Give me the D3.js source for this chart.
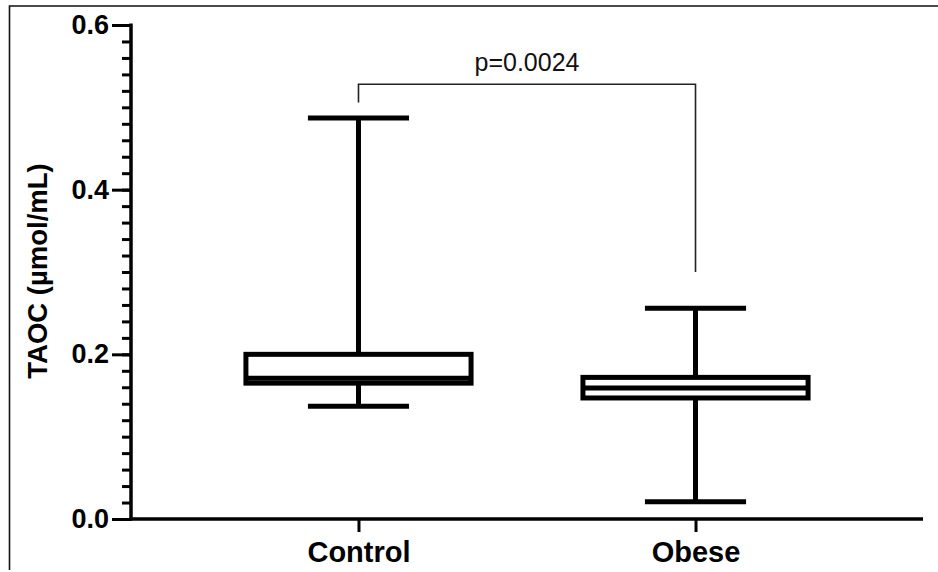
<!DOCTYPE html>
<html>
<head>
<meta charset="utf-8">
<script src="https://cdn.jsdelivr.net/npm/d3@7"></script>
<style>
    body { margin: 0; background: #fff; }
    svg { display: block; font-family: "Liberation Sans", Arial, sans-serif; }
</style>
</head>
<body>
<svg id="chart" width="938" height="572"></svg>
<script>
// box plot values
var groups = ['Control', 'Obese'];
var minVals = [0.137, 0.021];
var q1Vals = [0.165, 0.147];
var medVals = [0.171, 0.159];
var q3Vals = [0.200, 0.172];
var maxVals = [0.487, 0.256];

var yTicks = [0.0, 0.2, 0.4, 0.6];
var pLabel = 'p=0.0024';
var bracketTop = 0.528;
var bracketEnds = [0.506, 0.300];

var svg = d3.select('#chart');

var plotLeft = 131, plotRight = 923, plotTop = 25, plotBottom = 519;

var x = d3.scalePoint()
    .domain(groups)
    .range([plotLeft, plotRight])
    .padding(0.675);

var y = d3.scaleLinear()
    .domain([0, 0.6])
    .range([plotBottom, plotTop]);

// outer frame
svg.append('path')
    .attr('d', 'M945 6 H9.5 V570')
    .attr('fill', 'none')
    .attr('stroke', '#111')
    .attr('stroke-width', 1.6);

// y axis: minor ticks then major
var yMinor = d3.axisLeft(y)
    .tickValues(d3.range(0, 0.601, 0.02))
    .tickSize(9)
    .tickFormat('');

svg.append('g')
    .attr('transform', 'translate(' + plotLeft + ',0)')
    .call(yMinor)
    .call(function (g) {
        g.selectAll('line').attr('stroke', '#000').attr('stroke-width', 3);
        g.select('.domain').remove();
    });

var yAxis = d3.axisLeft(y)
    .tickValues(yTicks)
    .tickSize(19)
    .tickPadding(3)
    .tickFormat(d3.format('.1f'));

svg.append('g')
    .attr('transform', 'translate(' + plotLeft + ',0)')
    .call(yAxis)
    .call(function (g) {
        g.select('.domain')
            .attr('d', 'M0,' + (plotTop - 1.5) + 'V' + (plotBottom + 1.5))
            .attr('stroke', '#000')
            .attr('stroke-width', 3.5);
        g.selectAll('line').attr('stroke', '#000').attr('stroke-width', 3);
        g.selectAll('text')
            .attr('fill', '#000')
            .style('font-size', '27px')
            .style('font-weight', 'bold');
    });

// x axis
var xAxis = d3.axisBottom(x)
    .tickSize(13)
    .tickPadding(9);

svg.append('g')
    .attr('transform', 'translate(0,' + plotBottom + ')')
    .call(xAxis)
    .call(function (g) {
        g.select('.domain')
            .attr('d', 'M' + (plotLeft - 1.5) + ',0H' + plotRight)
            .attr('stroke', '#000')
            .attr('stroke-width', 3.5);
        g.selectAll('line').attr('stroke', '#000').attr('stroke-width', 3);
        g.selectAll('text')
            .attr('fill', '#000')
            .style('font-size', '29px')
            .style('font-weight', 'bold');
    });

// y axis title
svg.append('text')
    .attr('transform', 'translate(47,271) rotate(-90)')
    .attr('text-anchor', 'middle')
    .style('font-size', '27.5px')
    .style('font-weight', 'bold')
    .text('TAOC (\u00b5mol/mL)');

// boxes
var step = x.step();
var boxW = step * 0.668;
var capW = step * 0.3;

var data = groups.map(function (g, i) {
    return { name: g, min: minVals[i], q1: q1Vals[i], med: medVals[i], q3: q3Vals[i], max: maxVals[i] };
});

var box = svg.selectAll('.box')
    .data(data)
    .enter().append('g')
    .classed('box', true)
    .attr('stroke', '#000')
    .attr('stroke-width', 5)
    .attr('fill', 'none');

// whiskers
box.append('line')
    .attr('x1', function (d) { return x(d.name); })
    .attr('x2', function (d) { return x(d.name); })
    .attr('y1', function (d) { return y(d.max); })
    .attr('y2', function (d) { return y(d.q3); });

box.append('line')
    .attr('x1', function (d) { return x(d.name); })
    .attr('x2', function (d) { return x(d.name); })
    .attr('y1', function (d) { return y(d.q1); })
    .attr('y2', function (d) { return y(d.min); });

box.selectAll('.cap')
    .data(function (d) { return [{ name: d.name, v: d.max }, { name: d.name, v: d.min }]; })
    .enter().append('line')
    .classed('cap', true)
    .attr('x1', function (d) { return x(d.name) - capW / 2; })
    .attr('x2', function (d) { return x(d.name) + capW / 2; })
    .attr('y1', function (d) { return y(d.v); })
    .attr('y2', function (d) { return y(d.v); });

box.append('rect')
    .attr('x', function (d) { return x(d.name) - boxW / 2; })
    .attr('width', boxW)
    .attr('y', function (d) { return y(d.q3); })
    .attr('height', function (d) { return y(d.q1) - y(d.q3); })
    .attr('fill', '#fff');

box.append('line')
    .attr('x1', function (d) { return x(d.name) - boxW / 2; })
    .attr('x2', function (d) { return x(d.name) + boxW / 2; })
    .attr('y1', function (d) { return y(d.med); })
    .attr('y2', function (d) { return y(d.med); });

// significance bracket
var bx1 = x(groups[0]), bx2 = x(groups[1]);
svg.append('path')
    .attr('d', 'M' + bx1 + ',' + y(bracketEnds[0]) +
        'V' + y(bracketTop) + 'H' + bx2 + 'V' + y(bracketEnds[1]))
    .attr('fill', 'none')
    .attr('stroke', '#222')
    .attr('stroke-width', 1.6);

svg.append('text')
    .attr('x', (bx1 + bx2) / 2)
    .attr('y', y(bracketTop) - 13)
    .attr('text-anchor', 'middle')
    .style('font-size', '25px')
    .attr('fill', '#111')
    .text(pLabel);
</script>
</body>
</html>
